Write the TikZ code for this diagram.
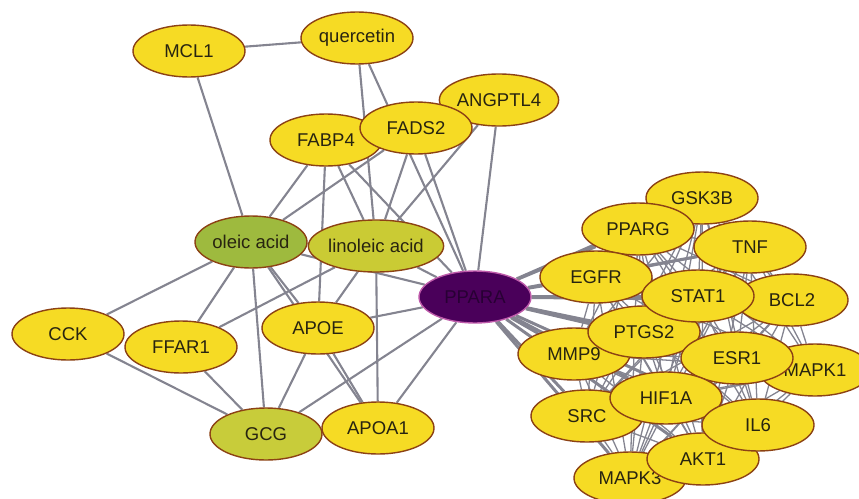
\documentclass[tikz,border=0pt]{standalone}
\usepackage{fontspec}
\setmainfont{Liberation Sans}
\usetikzlibrary{shapes.geometric,backgrounds}
\definecolor{yel}{RGB}{246,219,36}
\definecolor{outl}{RGB}{140,66,20}
\definecolor{oleic}{RGB}{158,186,62}
\definecolor{linol}{RGB}{202,203,52}
\definecolor{gcgc}{RGB}{200,204,58}
\definecolor{pur}{RGB}{74,0,90}
\definecolor{purout}{RGB}{190,90,170}
\definecolor{purtxt}{RGB}{40,0,52}
\definecolor{edgec}{RGB}{132,132,144}
\definecolor{txt}{RGB}{40,36,16}
\tikzset{
  gnode/.style={ellipse, draw=outl, line width=1.4pt, fill=yel, minimum width=112pt, minimum height=52pt, inner sep=0pt, text=txt, font=\fontsize{18.5}{20}\selectfont},
  edg/.style={draw=edgec, line width=2.1pt},
  thickedg/.style={draw=edgec, line width=3pt},
  thinedg/.style={draw=edgec, line width=1.3pt}
}
\begin{document}
\begin{tikzpicture}[x=1pt,y=-1pt]
\useasboundingbox (0,0) rectangle (859,498);
% left cluster
\node[gnode] (MCL1) at (189,51) {MCL1};
\node[gnode] (quer) at (357,38) {quercetin};
\node[gnode] (ANGPTL4) at (499,100) {ANGPTL4};
\node[gnode] (FABP4) at (326,140) {FABP4};
\node[gnode] (FADS2) at (416,128) {FADS2};
\node[gnode, fill=oleic] (oleic) at (251,242) {oleic acid};
\node[gnode, fill=linol] (linol) at (376,246) {linoleic acid};
\node[gnode] (CCK) at (68,334) {CCK};
\node[gnode] (FFAR1) at (181,347) {FFAR1};
\node[gnode] (APOE) at (318,328) {APOE};
\node[gnode, fill=gcgc] (GCG) at (266,434) {GCG};
\node[gnode] (APOA1) at (378,428) {APOA1};
\node[gnode, fill=pur, draw=purout, text=purtxt] (PPARA) at (475,297) {PPARA};
% right cluster
\node[gnode] (GSK3B) at (702,198) {GSK3B};
\node[gnode] (PPARG) at (638,229) {PPARG};
\node[gnode] (TNF) at (750,247) {TNF};
\node[gnode] (EGFR) at (596,277) {EGFR};
\node[gnode] (BCL2) at (792,300) {BCL2};
\node[gnode] (MMP9) at (574,354) {MMP9};
\node[gnode] (PTGS2) at (644,332) {PTGS2};
\node[gnode] (STAT1) at (698,296) {STAT1};
\node[gnode] (MAPK1) at (815,370) {MAPK1};
\node[gnode] (ESR1) at (737,358) {ESR1};
\node[gnode] (SRC) at (587,416) {SRC};
\node[gnode] (HIF1A) at (666,398) {HIF1A};
\node[gnode] (MAPK3) at (630,478) {MAPK3};
\node[gnode] (AKT1) at (703,459) {AKT1};
\node[gnode] (IL6) at (758,425) {IL6};
\begin{scope}[on background layer]
\foreach \a/\b in {MCL1/quer, MCL1/oleic, quer/linol, quer/PPARA,
  FABP4/oleic, FABP4/linol, FABP4/APOE, FABP4/PPARA,
  FADS2/oleic, FADS2/linol, FADS2/PPARA,
  ANGPTL4/linol, ANGPTL4/PPARA,
  oleic/linol, oleic/CCK, oleic/FFAR1, oleic/GCG, oleic/APOE, oleic/APOA1, oleic/PPARA,
  linol/FFAR1, linol/APOE, linol/APOA1, linol/PPARA,
  CCK/GCG, FFAR1/GCG, APOE/GCG, APOE/APOA1, APOE/PPARA, GCG/PPARA, APOA1/PPARA}
  \draw[edg] (\a) -- (\b);
\foreach \a [count=\i] in {GSK3B,PPARG,TNF,EGFR,BCL2,MMP9,PTGS2,STAT1,MAPK1,ESR1,SRC,HIF1A,MAPK3,AKT1,IL6} {
  \draw[thickedg] (PPARA) -- (\a);
  \foreach \b [count=\j] in {GSK3B,PPARG,TNF,EGFR,BCL2,MMP9,PTGS2,STAT1,MAPK1,ESR1,SRC,HIF1A,MAPK3,AKT1,IL6} {
    \ifnum\j>\i \draw[thinedg] (\a) -- (\b); \fi
  }
}
\end{scope}
\end{tikzpicture}
\end{document}
